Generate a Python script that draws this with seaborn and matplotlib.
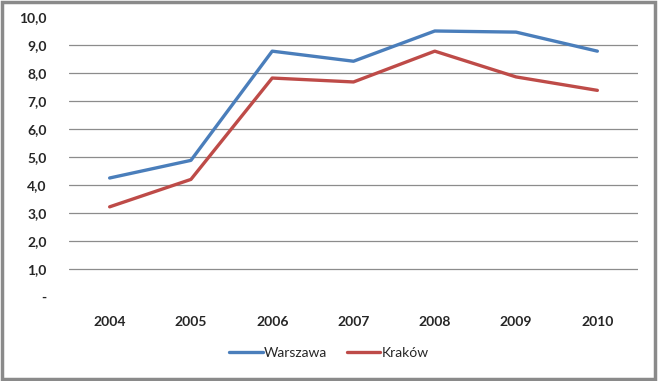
import numpy as np
import pandas as pd
import matplotlib
matplotlib.use("Agg")
import matplotlib.pyplot as plt
import seaborn as sns

years = ["2004", "2005", "2006", "2007", "2008", "2009", "2010"]
warszawa = [4.25, 4.88, 8.78, 8.42, 9.50, 9.46, 8.78]
krakow = [3.22, 4.20, 7.82, 7.68, 8.78, 7.86, 7.38]
y_ticks = [0, 1, 2, 3, 4, 5, 6, 7, 8, 9, 10]

df = pd.DataFrame({
    "rok": years * 2,
    "wartosc": warszawa + krakow,
    "miasto": ["Warszawa"] * len(years) + ["Kraków"] * len(years),
})

sns.set_style("white")
plt.rcParams["font.family"] = ["Lato", "DejaVu Sans"]

fig = plt.figure(figsize=(6.58, 3.81), dpi=100)
ax = fig.add_axes([69 / 658, 1 - 297 / 381, (638 - 69) / 658, (297 - 17) / 381])

sns.lineplot(data=df, x="rok", y="wartosc", hue="miasto",
             palette={"Warszawa": "#4A7EBB", "Kraków": "#BE4B48"},
             linewidth=2.4, ax=ax, legend=False, sort=False)

ax.set_xlim(-0.5, len(years) - 0.5)
ax.set_ylim(0, 10)
ax.set_yticks(y_ticks)
ax.set_yticklabels(["-" if v == 0 else f"{v:.1f}".replace(".", ",") for v in y_ticks],
                   fontsize=10, fontweight="bold")
ax.set_xticks(range(len(years)))
ax.set_xticklabels(years, fontsize=10, fontweight="bold")
ax.set_xlabel("")
ax.set_ylabel("")
for v in y_ticks[1:-1]:
    ax.axhline(v, color="#8c8c8c", linewidth=0.9, zorder=0)
for s in ax.spines.values():
    s.set_visible(False)
ax.tick_params(axis="y", length=0, pad=16)
ax.tick_params(axis="x", length=0, pad=14)
ax.set_xticks(np.arange(0.5, len(years) - 1, 1), minor=True)
ax.tick_params(axis="x", which="minor", length=3, color="#bbbbbb", direction="out")

handles = [plt.Line2D([], [], color="#4A7EBB", linewidth=2.4),
           plt.Line2D([], [], color="#BE4B48", linewidth=2.4)]
fig.legend(handles, ["Warszawa", "Kraków"], loc="center", bbox_to_anchor=(0.5, 1 - 353 / 381),
           ncol=2, frameon=False, fontsize=10, handlelength=2.4, handletextpad=0.1,
           columnspacing=1.4)

fig.patches.append(plt.Rectangle((0.003, 0.004), 0.992, 0.99, transform=fig.transFigure,
                                 fill=False, edgecolor="#8a8a8a", linewidth=2.5))

fig.savefig("out.png", dpi=100)
